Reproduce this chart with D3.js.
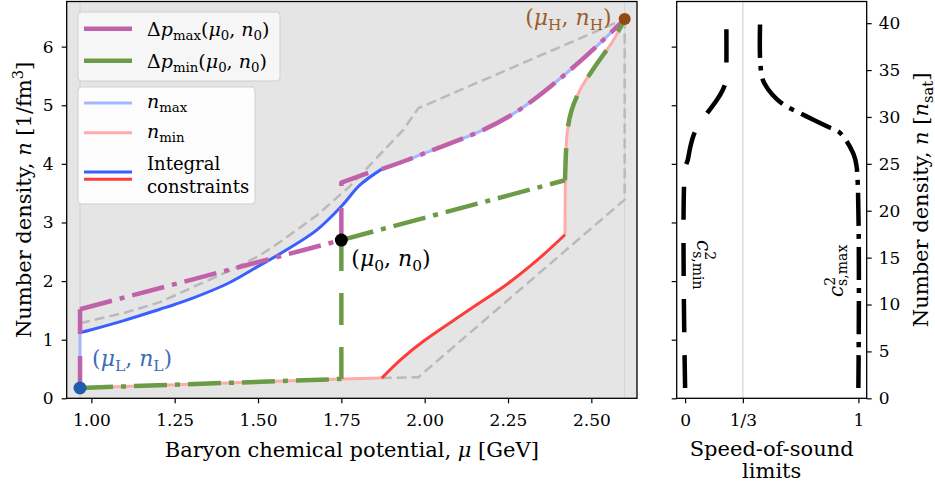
<!DOCTYPE html>
<html>
<head>
<meta charset="utf-8">
<script src="https://cdn.jsdelivr.net/npm/d3@7"></script>
<style>
  body { margin: 0; background: #fff; }
  svg text { font-family: "DejaVu Serif", serif; }
</style>
</head>
<body>
<div id="chart"></div>
<script>
// Special points (mu in GeV, n in 1/fm^3)
var muL = 0.966, nL = 0.176;
var mu0 = 1.75, n0 = 2.70;
var muH = 2.6, nH = 6.47;

// Upper integral constraint (blue)
var intUpperMu = [0.966, 1.0, 1.1, 1.206, 1.25, 1.3, 1.406, 1.5, 1.576, 1.676, 1.751, 1.806, 1.871];
var intUpperN  = [1.12, 1.17, 1.33, 1.52, 1.60, 1.70, 1.95, 2.25, 2.50, 2.87, 3.28, 3.64, 3.91];

// n_max beyond the integral constraint (light blue)
var nMaxMu = [1.871, 1.95, 2.026, 2.1, 2.176, 2.25, 2.326, 2.426, 2.526, 2.6];
var nMaxN  = [3.91, 4.07, 4.24, 4.40, 4.58, 4.80, 5.09, 5.55, 6.06, 6.47];

// n_min, low part and high part (pink)
var nMinLowMu = [0.966, 1.75, 1.871];
var nMinLowN  = [0.176, 0.33, 0.345];
var nMinUpMu = [2.421, 2.422, 2.424, 2.428, 2.44, 2.466, 2.511, 2.566, 2.6];
var nMinUpN  = [2.79, 3.72, 4.20, 4.55, 4.90, 5.26, 5.66, 6.11, 6.47];

// Lower integral constraint (red)
var intLowerMu = [1.871, 1.93, 2.0, 2.126, 2.25, 2.34, 2.421];
var intLowerN  = [0.345, 0.67, 0.99, 1.48, 1.96, 2.37, 2.79];

// Grey dashed envelopes
var greyUpMu = [0.966, 1.1, 1.206, 1.306, 1.416, 1.5, 1.567, 1.676, 1.776, 1.876, 1.936, 1.981, 2.6];
var greyUpN  = [1.28, 1.46, 1.64, 1.90, 2.18, 2.42, 2.67, 3.12, 3.62, 4.22, 4.58, 4.95, 6.47];
var greyLowMu = [1.871, 1.981, 2.6, 2.6];
var greyLowN  = [0.345, 0.36, 3.39, 6.47];

// Delta p_max path pieces
var dpMaxVertMu = [0.966, 0.966], dpMaxVertN = [0.176, 1.52];
var dpMaxSlopeMu = [0.966, 1.75], dpMaxSlopeN = [1.52, 2.70];
var dpMaxJumpMu = [1.75, 1.75, 1.871], dpMaxJumpN = [2.70, 3.68, 3.93];

// Delta p_min path pieces
var dpMinLowMu = [0.966, 1.75], dpMinLowN = [0.176, 0.33];
var dpMinVertMu = [1.75, 1.75], dpMinVertN = [0.33, 2.70];
var dpMinSlopeMu = [1.75, 2.421], dpMinSlopeN = [2.70, 3.72];
var dpMinUpMu = [2.421, 2.424, 2.428, 2.44, 2.466, 2.511, 2.566, 2.6];
var dpMinUpN  = [3.72, 4.20, 4.55, 4.90, 5.26, 5.66, 6.11, 6.47];

// Speed-of-sound limits (n in n_sat)
var cs2MinN = [1.1, 24.5, 25.4, 26.8, 28.0, 28.8, 29.7, 30.6, 31.8, 32.8, 33.8, 35.0, 40.4];
var cs2MinV = [0, 0, 0.015, 0.03, 0.048, 0.067, 0.10, 0.135, 0.183, 0.215, 0.235, 0.238, 0.238];
var cs2MaxN = [1.1, 24.7, 26.1, 28.3, 29.0, 29.7, 30.4, 31.1, 31.9, 32.9, 34.0, 36.1, 40.4];
var cs2MaxV = [1, 0.99, 0.971, 0.894, 0.818, 0.74, 0.664, 0.587, 0.529, 0.481, 0.448, 0.433, 0.433];

// Ticks
var muTicks = [1.0, 1.25, 1.5, 1.75, 2.0, 2.25, 2.5];
var nTicks = [0, 1, 2, 3, 4, 5, 6];
var nsatTicks = [0, 5, 10, 15, 20, 25, 30, 35, 40];
var csTicks = [0, 1 / 3, 1];
var csTickLabels = ["0", "1/3", "1"];

var COLORS = {
    bg: "#e5e5e5", magenta: "#c061aa", green: "#6b9b47",
    blue: "#3a5fff", red: "#ff3c3c", lightBlue: "#a3b7ff", pink: "#ffabab",
    grey: "#bababa", dotL: "#1f5cab", textL: "#3b6db5", dotH: "#8f4a12", textH: "#9c5c2a"
};
var DASH = "32,22", DASHDOT = "33,8,5,8";

var svg = d3.select("#chart").append("svg").attr("width", 935).attr("height", 491);

// Helper: zip two arrays into points
function zip(a, b) { return a.map(function (v, i) { return [v, b[i]]; }); }

// Helper: math-like rich text via tspans
function richText(sel, parts, size) {
    parts.forEach(function (p) {
        var ts = sel.append("tspan").text(p[0]);
        var st = p[1] || "";
        if (st.indexOf("i") >= 0) ts.attr("font-style", "italic");
        if (st.indexOf("sub") >= 0) ts.attr("font-size", size * 0.7).attr("baseline-shift", (-0.22 * size) + "px");
        if (st.indexOf("sup") >= 0) ts.attr("font-size", size * 0.7).attr("baseline-shift", (0.4 * size) + "px");
    });
    return sel;
}

// ---------------- Left panel ----------------
var L = { left: 66.7, right: 637, top: 1.5, bottom: 398.3 };
var x = d3.scaleLinear().domain([0.926, 2.637]).range([L.left, L.right]);
var y = d3.scaleLinear().domain([0, 6.77]).range([L.bottom, L.top]);

svg.append("clipPath").attr("id", "clipL").append("rect")
    .attr("x", L.left).attr("y", L.top).attr("width", L.right - L.left).attr("height", L.bottom - L.top);

var left = svg.append("g").attr("clip-path", "url(#clipL)");
left.append("rect").attr("x", L.left).attr("y", L.top)
    .attr("width", L.right - L.left).attr("height", L.bottom - L.top).attr("fill", COLORS.bg);

var lin = d3.line().x(function (d) { return x(d[0]); }).y(function (d) { return y(d[1]); });
var smooth = d3.line().x(function (d) { return x(d[0]); }).y(function (d) { return y(d[1]); })
    .curve(d3.curveCatmullRom.alpha(0.5));

// Allowed (white) region
var region = lin([[muL, nL], [muL, intUpperN[0]]]) +
    smooth(zip(intUpperMu, intUpperN)).replace(/^M/, "L") +
    smooth(zip(nMaxMu, nMaxN)).replace(/^M/, "L") +
    smooth(zip(nMinUpMu, nMinUpN).reverse()).replace(/^M/, "L") +
    smooth(zip(intLowerMu, intLowerN).reverse()).replace(/^M/, "L") +
    lin(zip(nMinLowMu, nMinLowN).reverse()).replace(/^M/, "L") + "Z";
left.append("path").attr("d", region).attr("fill", "#fff");

// Faint vertical markers at mu_L and mu_H
[muL, muH].forEach(function (m) {
    left.append("line").attr("x1", x(m)).attr("x2", x(m)).attr("y1", L.top).attr("y2", L.bottom)
        .attr("stroke", "#d2d2d2").attr("stroke-width", 1);
});

function drawPath(g, d, color, width, dash) {
    var p = g.append("path").attr("d", d).attr("fill", "none").attr("stroke", color)
        .attr("stroke-width", width).attr("stroke-linejoin", "round");
    if (dash) p.attr("stroke-dasharray", dash);
    return p;
}

// Grey dashed envelopes
drawPath(left, lin(zip(greyUpMu, greyUpN)), COLORS.grey, 2.5, "10,5");
drawPath(left, lin(zip(greyLowMu, greyLowN)), COLORS.grey, 2.5, "10,5");

// n_max / n_min
drawPath(left, lin([[muL, nL], [muL, intUpperN[0]]]), COLORS.lightBlue, 3);
drawPath(left, smooth(zip(nMaxMu, nMaxN)), COLORS.lightBlue, 3);
drawPath(left, lin(zip(nMinLowMu, nMinLowN)), COLORS.pink, 3);
drawPath(left, smooth(zip(nMinUpMu, nMinUpN)), COLORS.pink, 3);

// Integral constraints
drawPath(left, smooth(zip(intUpperMu, intUpperN)), COLORS.blue, 3);
drawPath(left, smooth(zip(intLowerMu, intLowerN)), COLORS.red, 3);

// Delta p_max
drawPath(left, lin(zip(dpMaxVertMu, dpMaxVertN)), COLORS.magenta, 4.5, DASH);
drawPath(left, lin(zip(dpMaxSlopeMu, dpMaxSlopeN)), COLORS.magenta, 4.5, DASHDOT);
drawPath(left, lin(zip(dpMaxJumpMu, dpMaxJumpN)), COLORS.magenta, 4.5, DASH);
drawPath(left, smooth(zip(nMaxMu, nMaxN)), COLORS.magenta, 4.5, DASHDOT);
// Delta p_min
drawPath(left, lin(zip(dpMinLowMu, dpMinLowN)), COLORS.green, 4.5, DASHDOT);
drawPath(left, lin(zip(dpMinVertMu, dpMinVertN)), COLORS.green, 4.5, DASH);
drawPath(left, lin(zip(dpMinSlopeMu, dpMinSlopeN)), COLORS.green, 4.5, DASHDOT);
drawPath(left, smooth(zip(dpMinUpMu, dpMinUpN)), COLORS.green, 4.5, DASH);

// Points
left.append("circle").attr("cx", x(muL)).attr("cy", y(nL)).attr("r", 6.5).attr("fill", COLORS.dotL);
left.append("circle").attr("cx", x(mu0)).attr("cy", y(n0)).attr("r", 6.5).attr("fill", "#000");
left.append("circle").attr("cx", x(muH)).attr("cy", y(nH)).attr("r", 6).attr("fill", COLORS.dotH);

// Point labels
richText(left.append("text").attr("x", x(muL) + 12).attr("y", y(nL) - 22).attr("font-size", 22).attr("fill", COLORS.textL),
    [["("], ["μ", "i"], ["L", "sub"], [", "], ["n", "i"], ["L", "sub"], [")"]], 22);
richText(left.append("text").attr("x", x(mu0) + 10).attr("y", y(n0) + 26).attr("font-size", 22).attr("fill", "#000"),
    [["("], ["μ", "i"], ["0", "sub"], [", "], ["n", "i"], ["0", "sub"], [")"]], 22);
richText(left.append("text").attr("x", x(muH) - 13).attr("y", y(nH) + 6).attr("text-anchor", "end").attr("font-size", 22).attr("fill", COLORS.textH),
    [["("], ["μ", "i"], ["H", "sub"], [", "], ["n", "i"], ["H", "sub"], [")"]], 22);

// Legends
function legendBox(g, x0, y0, w, h, fill) {
    g.append("rect").attr("x", x0).attr("y", y0).attr("width", w).attr("height", h)
        .attr("rx", 3.5).attr("fill", fill).attr("stroke", "#cfcfcf").attr("stroke-width", 1);
}
var leg = svg.append("g");
legendBox(leg, 78, 12, 202, 69, "#f6f6f6");
leg.append("line").attr("x1", 84).attr("x2", 132).attr("y1", 28.7).attr("y2", 28.7)
    .attr("stroke", COLORS.magenta).attr("stroke-width", 4.5);
leg.append("line").attr("x1", 84).attr("x2", 132).attr("y1", 60.7).attr("y2", 60.7)
    .attr("stroke", COLORS.green).attr("stroke-width", 4.5);
richText(leg.append("text").attr("x", 147).attr("y", 36).attr("font-size", 19),
    [["Δ"], ["p", "i"], ["max", "sub"], ["("], ["μ", "i"], ["0", "sub"], [", "], ["n", "i"], ["0", "sub"], [")"]], 19);
richText(leg.append("text").attr("x", 147).attr("y", 68).attr("font-size", 19),
    [["Δ"], ["p", "i"], ["min", "sub"], ["("], ["μ", "i"], ["0", "sub"], [", "], ["n", "i"], ["0", "sub"], [")"]], 19);

legendBox(leg, 78, 87, 177, 117, "#fcfcfc");
leg.append("line").attr("x1", 84).attr("x2", 132).attr("y1", 103).attr("y2", 103)
    .attr("stroke", COLORS.lightBlue).attr("stroke-width", 3);
leg.append("line").attr("x1", 84).attr("x2", 132).attr("y1", 132.7).attr("y2", 132.7)
    .attr("stroke", COLORS.pink).attr("stroke-width", 3);
leg.append("line").attr("x1", 84).attr("x2", 132).attr("y1", 172).attr("y2", 172)
    .attr("stroke", COLORS.blue).attr("stroke-width", 3);
leg.append("line").attr("x1", 84).attr("x2", 132).attr("y1", 179.3).attr("y2", 179.3)
    .attr("stroke", COLORS.red).attr("stroke-width", 3);
richText(leg.append("text").attr("x", 147).attr("y", 108).attr("font-size", 19), [["n", "i"], ["max", "sub"]], 19);
richText(leg.append("text").attr("x", 147).attr("y", 138).attr("font-size", 19), [["n", "i"], ["min", "sub"]], 19);
leg.append("text").attr("x", 147).attr("y", 170).attr("font-size", 18).text("Integral");
leg.append("text").attr("x", 147).attr("y", 193).attr("font-size", 18).text("constraints");

// Frame and axes
svg.append("rect").attr("x", L.left).attr("y", L.top).attr("width", L.right - L.left)
    .attr("height", L.bottom - L.top).attr("fill", "none").attr("stroke", "#000").attr("stroke-width", 1.3);

function styleAxis(g) {
    g.select(".domain").remove();
    g.selectAll(".tick line").attr("stroke", "#000").attr("stroke-width", 1.2);
    g.selectAll(".tick text").attr("font-family", "DejaVu Serif").attr("font-size", 17).attr("fill", "#000");
}
svg.append("g").attr("transform", "translate(0," + L.bottom + ")")
    .call(d3.axisBottom(x).tickValues(muTicks).tickFormat(d3.format(".2f")).tickSize(5).tickPadding(11))
    .call(styleAxis);
svg.append("g").attr("transform", "translate(" + L.left + ",0)")
    .call(d3.axisLeft(y).tickValues(nTicks).tickFormat(d3.format("d")).tickSize(5).tickPadding(8))
    .call(styleAxis);

richText(svg.append("text").attr("x", (L.left + L.right) / 2).attr("y", 457).attr("text-anchor", "middle").attr("font-size", 21),
    [["Baryon chemical potential, "], ["μ", "i"], [" [GeV]"]], 21);
richText(svg.append("text").attr("transform", "translate(31," + ((L.top + L.bottom) / 2) + ") rotate(-90)")
    .attr("text-anchor", "middle").attr("font-size", 21),
    [["Number density, "], ["n", "i"], [" [1/fm"], ["3", "sup"], ["]"]], 21);

// ---------------- Right panel ----------------
var R = { left: 676.7, right: 866.7, top: L.top, bottom: L.bottom };
var xc = d3.scaleLinear().domain([-0.0485, 1.048]).range([R.left, R.right]);
var ys = d3.scaleLinear().domain([0, 6.77 / 0.16]).range([R.bottom, R.top]);

var right = svg.append("g");
right.append("line").attr("x1", xc(1 / 3)).attr("x2", xc(1 / 3)).attr("y1", R.top).attr("y2", R.bottom)
    .attr("stroke", "#dcdcdc").attr("stroke-width", 1.5);

var csLine = d3.line().x(function (d) { return xc(d[0]); }).y(function (d) { return ys(d[1]); })
    .curve(d3.curveCatmullRom.alpha(0.5));
drawPath(right, csLine(zip(cs2MinV, cs2MinN)), "#000", 4.5, "33,23");
drawPath(right, csLine(zip(cs2MaxV, cs2MaxN)), "#000", 4.5, DASHDOT);

richText(right.append("text").attr("transform", "translate(" + (xc(0) + 12) + ",240) rotate(90)")
    .attr("font-size", 20), [["c", "i"], ["2", "sup"], ["s,min", "sub"]], 20).select("tspan:nth-child(3)").attr("dx", -9);
richText(right.append("text").attr("transform", "translate(" + (xc(1) - 15) + ",297) rotate(-90)")
    .attr("font-size", 20), [["c", "i"], ["2", "sup"], ["s,max", "sub"]], 20).select("tspan:nth-child(3)").attr("dx", -9);

svg.append("rect").attr("x", R.left).attr("y", R.top).attr("width", R.right - R.left)
    .attr("height", R.bottom - R.top).attr("fill", "none").attr("stroke", "#000").attr("stroke-width", 1.3);

svg.append("g").attr("transform", "translate(0," + R.bottom + ")")
    .call(d3.axisBottom(xc).tickValues(csTicks).tickFormat(function (d, i) { return csTickLabels[i]; })
        .tickSize(5).tickPadding(11))
    .call(styleAxis);
svg.append("g").attr("transform", "translate(" + R.left + ",0)")
    .call(d3.axisLeft(y).tickValues(nTicks).tickFormat("").tickSize(5))
    .call(styleAxis);
svg.append("g").attr("transform", "translate(" + R.right + ",0)")
    .call(d3.axisRight(ys).tickValues(nsatTicks).tickFormat(d3.format("d")).tickSize(5).tickPadding(7))
    .call(styleAxis);

// Two-line x label, kept in one text element
var sosLabel = svg.append("text").attr("text-anchor", "middle").attr("font-size", 21);
sosLabel.append("tspan").attr("x", (R.left + R.right) / 2).attr("y", 456).text("Speed-of-sound");
sosLabel.append("tspan").attr("x", (R.left + R.right) / 2).attr("dy", 22).text("limits");
richText(svg.append("text").attr("transform", "translate(928," + ((R.top + R.bottom) / 2) + ") rotate(-90)")
    .attr("text-anchor", "middle").attr("font-size", 21),
    [["Number density, "], ["n", "i"], [" ["], ["n", "i"], ["sat", "sub"], ["]"]], 21);
</script>
</body>
</html>
